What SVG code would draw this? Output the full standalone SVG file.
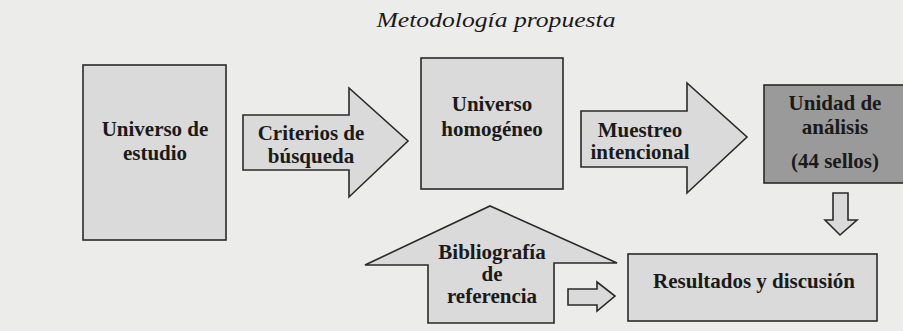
<svg xmlns="http://www.w3.org/2000/svg" width="903" height="331" viewBox="0 0 903 331">
<style>
.bg{fill:#ececea}
.sh{fill:#dadada;stroke:#2a2a2a;stroke-width:1.6}
.dk{fill:#9a9a9a;stroke:#2a2a2a;stroke-width:1.6}
.lbl{font-family:"Liberation Serif","Times New Roman",serif;font-weight:bold;font-size:21px;fill:#1a1a1a;text-anchor:middle}
.title{font-family:"Liberation Serif","Times New Roman",serif;font-style:italic;font-size:22px;fill:#1a1a1a;text-anchor:middle}
</style>
<rect class="bg" x="0" y="0" width="903" height="331"/>
<text class="title" x="496" y="27" textLength="239" lengthAdjust="spacingAndGlyphs">Metodología propuesta</text>

<g id="universo-estudio">
<rect class="sh" x="83" y="65" width="143" height="175"/>
<text class="lbl" x="155" y="136">Universo de</text>
<text class="lbl" x="155" y="160">estudio</text>
</g>

<g id="universo-homogeneo">
<rect class="sh" x="421" y="58" width="142" height="131"/>
<text class="lbl" x="492" y="111">Universo</text>
<text class="lbl" x="492" y="136">homogéneo</text>
</g>

<g id="unidad-analisis">
<rect class="dk" x="764" y="85" width="150" height="98"/>
<text class="lbl" x="835" y="110">Unidad de</text>
<text class="lbl" x="835" y="134">análisis</text>
<text class="lbl" x="835" y="168">(44 sellos)</text>
</g>

<g id="resultados">
<rect class="sh" x="628" y="254" width="249" height="67"/>
<text class="lbl" x="754" y="288">Resultados y discusión</text>
</g>

<g id="connectors">
<g id="criterios">
<polygon class="sh" points="243,115 349,115 349,88 408,141 349,197 349,170 243,170"/>
<text class="lbl" x="311" y="140">Criterios de</text>
<text class="lbl" x="311" y="163">búsqueda</text>
</g>
<g id="muestreo">
<polygon class="sh" points="581,111 687,111 687,83 747,137 687,193 687,167 581,167"/>
<text class="lbl" x="640" y="137">Muestreo</text>
<text class="lbl" x="640" y="159">intencional</text>
</g>
<g id="bibliografia">
<polygon class="sh" points="428,323 428,265 365,265 490,206 617,263 554,263 554,323"/>
<text class="lbl" x="492" y="259">Bibliografía</text>
<text class="lbl" x="492" y="281">de</text>
<text class="lbl" x="492" y="303">referencia</text>
</g>
<polygon id="flecha-abajo" class="sh" points="833,193 848,193 848,220 857,220 840,235 825,220 833,220"/>
<polygon id="flecha-derecha" class="sh" points="568,289 597,289 597,282 615,296 597,311 597,305 568,305"/>
</g>
</svg>
